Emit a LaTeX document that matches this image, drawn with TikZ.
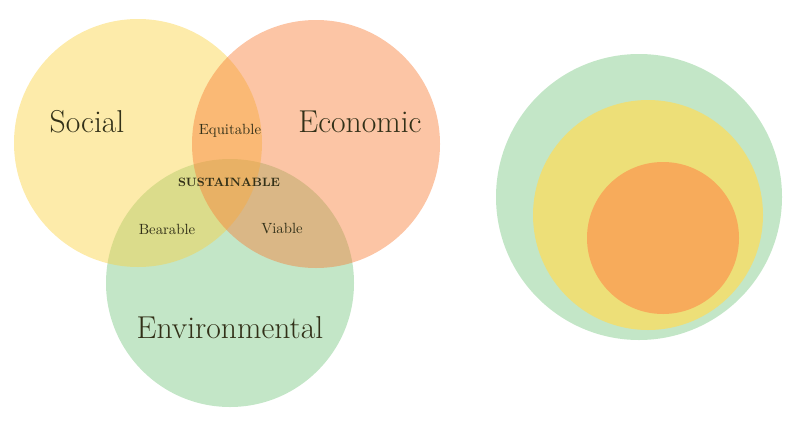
\documentclass[tikz,border=0pt]{standalone}
\usepackage{xcolor}

\definecolor{socialcol}{RGB}{250,210,66}
\definecolor{econcol}{RGB}{248,126,55}
\definecolor{envcol}{RGB}{195,230,199}
\definecolor{ringyellow}{RGB}{237,223,120}
\definecolor{ringorange}{RGB}{247,171,91}
\definecolor{labelcol}{RGB}{50,48,24}

\begin{document}
\begin{tikzpicture}[x=0.025cm,y=0.025cm,
    big/.style={text=labelcol,font=\fontsize{22.5}{26}\selectfont},
    small/.style={text=labelcol,font=\fontsize{10.5}{12}\selectfont}]
    \useasboundingbox (0,0) rectangle (801,424);

    \fill[envcol] (230,141) circle (124);
    \fill[socialcol,fill opacity=0.45] (138,281) circle (124);
    \fill[econcol,fill opacity=0.45] (316,280) circle (124);

    \node[big] (social) at (87,302) {Social};
    \node[big] (economic) at (360,302) {Economic};
    \node[big] (environmental) at (230,96) {Environmental};
    \node[small] (equitable) at (230,293) {Equitable};
    \node[small] (bearable) at (167,195) {Bearable};
    \node[small] (viable) at (282,195) {Viable};
    \node[text=labelcol,font=\fontsize{8.6}{10}\selectfont\bfseries] (sustainable) at (229,242) {SUSTAINABLE};

    \fill[envcol] (639,227) circle (143);
    \fill[ringyellow] (648,209) circle (115);
    \fill[ringorange] (663,186) circle (76);
\end{tikzpicture}
\end{document}
